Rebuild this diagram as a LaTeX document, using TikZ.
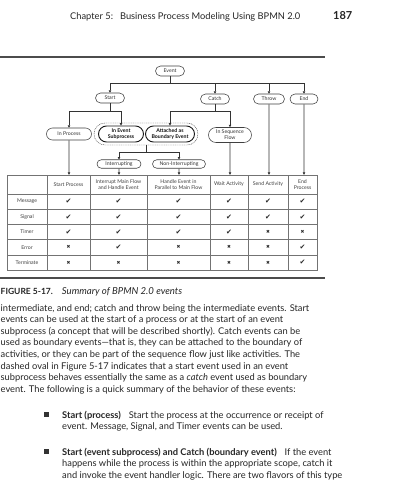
\documentclass[tikz,border=0pt]{standalone}
\usepackage{fontspec}
\setmainfont{Lato}
\newfontfamily\dvsans{DejaVu Sans}
\usetikzlibrary{positioning,arrows.meta,shapes.misc}

\newcommand{\cmark}{{\dvsans\fontsize{7}{7}\selectfont ✔}}
\newcommand{\xmark}{{\dvsans\fontsize{4.6}{4.6}\selectfont ✖}}

\begin{document}
\begin{tikzpicture}[x=1pt,y=-1pt,
  evbox/.style={rounded rectangle, draw=black!75, line width=0.55pt, inner sep=0.5pt,
    minimum height=10pt, font=\fontsize{5.2}{5.8}\selectfont, text=black!80, align=center},
  evbold/.style={evbox, draw=black!90, line width=0.9pt, text=black!95,
    font=\fontsize{5.2}{5.8}\selectfont\bfseries},
  ovalbox/.style={rounded rectangle, draw=black!70, dash pattern=on 1pt off 0.8pt,
    line width=0.45pt, inner sep=0pt},
  link/.style={draw=black!80, line width=0.55pt},
  arr/.style={link, -{Triangle[length=2.4pt,width=2.4pt]}},
  tabline/.style={draw=black!55, line width=0.5pt},
  tabcell/.style={font=\fontsize{5.2}{6}\selectfont, text=black!75, align=center, inner sep=0pt},
  body/.style={anchor=base west, inner sep=0pt, font=\fontsize{9.3}{11}\selectfont, text=black!85},
  rulebar/.style={draw=black!70, line width=1.3pt}]

  % Fondo y tamaño de la página
  \fill[white] (0,0) rectangle (400,504);
  \useasboundingbox (0,0) rectangle (400,504);

  % Cabecera de la página
  \node[body, font=\fontsize{9.3}{11}\selectfont] (hdr) at (70,19)
    {Chapter 5:\hspace{7pt}Business Process Modeling Using BPMN 2.0};
  \node[body, font=\fontsize{11}{13}\selectfont\bfseries] (pgnum) at (333,19.5) {187};
  \draw[rulebar] (0,57) -- (325,57);

  % Nodos del árbol de eventos
  \node[evbox, minimum width=30pt] (ev) at (170,71) {Event};
  \node[evbox, minimum width=30pt] (start) at (110,98) {Start};
  \node[evbox, minimum width=30pt] (catch) at (215,99) {Catch};
  \node[evbox, minimum width=32pt] (throw) at (269,99) {Throw};
  \node[evbox, minimum width=29pt] (evend) at (304,99) {End};

  \node[evbox, minimum width=46pt, minimum height=12pt] (inproc) at (69,134) {In Process};
  \node[ovalbox, minimum width=104pt, minimum height=22pt] (oval) at (146,134) {};
  \node[evbold, minimum width=46pt, minimum height=16pt] (insub) at (121,134) {In Event\\Subprocess};
  \node[evbold, minimum width=50pt, minimum height=16pt] (attached) at (170,134) {Attached as\\Boundary Event};
  \node[evbox, minimum width=44pt, minimum height=15pt] (inseq) at (230,135) {In Sequence\\Flow};

  \node[evbox, minimum width=45pt, minimum height=8.5pt] (interr) at (119,164) {Interrupting};
  \node[evbox, minimum width=54pt, minimum height=8.5pt] (nonint) at (179,164) {Non-Interrupting};

  % Puntos de reparto de las conexiones
  \coordinate (evbus) at (170,83);
  \coordinate (stbus) at (110,111);
  \coordinate (cabus) at (215,111);
  \coordinate (ovbus) at (146,152);

  % Conexiones del árbol
  \draw[link] (ev) -- (evbus);
  \foreach \to in {start, catch, throw, evend}
    \draw[arr] (evbus) -| (\to);
  \draw[link] (start) -- (stbus);
  \foreach \to in {inproc, insub}
    \draw[arr] (stbus) -| (\to);
  \draw[link] (catch) -- (cabus);
  \foreach \to in {attached, inseq}
    \draw[arr] (cabus) -| (\to);
  \draw[link] (oval) -- (ovbus);
  \foreach \to in {interr, nonint}
    \draw[arr] (ovbus) -| (\to);

  % Tabla
  \draw[tabline] (7,175) rectangle (317,270);
  \foreach \x in {47,90,147,210,248,288}
    \draw[tabline] (\x,175) -- (\x,270);
  \foreach \y in {194,209.2,224.4,239.6,254.8}
    \draw[tabline] (7,\y) -- (317,\y);

  % Encabezados de columna
  \foreach \n/\xx/\t in {h1/68.5/{Start Process}, h2/118.5/{Interrupt Main Flow\\and Handle Event},
      h3/178.5/{Handle Event in\\Parallel to Main Flow}, h4/229/{Wait Activity},
      h5/268/{Send Activity}, h6/302.5/{End\\Process}}
    \node[tabcell, minimum height=19pt] (\n) at (\xx,184.5) {\t};

  % Flechas hacia la tabla
  \foreach \from/\to in {inproc/h1, interr/h2, nonint/h3, inseq/h4, throw/h5, evend/h6}
    \draw[arr] (\from) -- (\from |- \to.north);

  % Filas de la tabla
  \foreach \lab/\ma/\mb/\mc/\md/\me/\mf [count=\r] in {
      Message/\cmark/\cmark/\cmark/\cmark/\cmark/\cmark,
      Signal/\cmark/\cmark/\cmark/\cmark/\cmark/\cmark,
      Timer/\cmark/\cmark/\cmark/\cmark/\xmark/\xmark,
      Error/\xmark/\cmark/\xmark/\xmark/\xmark/\cmark,
      Terminate/\xmark/\xmark/\xmark/\xmark/\xmark/\cmark}{
    \pgfmathsetmacro\yy{194+(\r-0.5)*15.2}
    \node[tabcell] (lab\r) at (27,\yy) {\lab};
    \foreach \m/\xx [count=\k] in {\ma/68.5, \mb/118.5, \mc/178.5, \md/229, \me/268, \mf/302.5}
      \node[inner sep=0pt, text=black!85] (m\r-\k) at (\xx,\yy) {\m};
  }

  % Pie de figura
  \draw[rulebar] (0,278) -- (325,278);
  \node[body] (cap) at (0.5,294)
    {{\fontsize{8.5}{10}\selectfont\bfseries FIGURE 5-17.}\hspace{9pt}{\fontsize{9.6}{11}\selectfont\itshape Summary of BPMN 2.0 events}};

  % Texto del cuerpo
  \foreach \t [count=\i] in {
      {intermediate, and end; catch and throw being the intermediate events. Start},
      {events can be used at the start of a process or at the start of an event},
      {subprocess (a concept that will be described shortly). Catch events can be},
      {used as boundary events—that is, they can be attached to the boundary of},
      {activities, or they can be part of the sequence flow just like activities. The},
      {dashed oval in Figure 5-17 indicates that a start event used in an event},
      {subprocess behaves essentially the same as a \emph{catch} event used as boundary},
      {event. The following is a quick summary of the behavior of these events:}}
    \node[body] (l\i) at (0.5,{311+(\i-1)*11.6}) {\t};

  % Viñetas
  \node[fill=black!80, inner sep=0pt, minimum size=4.6pt] (bul1) at (46.5,414.7) {};
  \node[body] (b1a) at (62,418) {\textbf{Start (process)}\hspace{8pt}Start the process at the occurrence or receipt of};
  \node[body] (b1b) at (62,429.6) {event. Message, Signal, and Timer events can be used.};
  \node[fill=black!80, inner sep=0pt, minimum size=4.6pt] (bul2) at (46.5,451.7) {};
  \node[body] (b2a) at (62,455) {\textbf{Start (event subprocess) and Catch (boundary event)}\hspace{8pt}If the event};
  \node[body] (b2b) at (62,466.6) {happens while the process is within the appropriate scope, catch it};
  \node[body] (b2c) at (62,478.2) {and invoke the event handler logic. There are two flavors of this type};
\end{tikzpicture}
\end{document}
